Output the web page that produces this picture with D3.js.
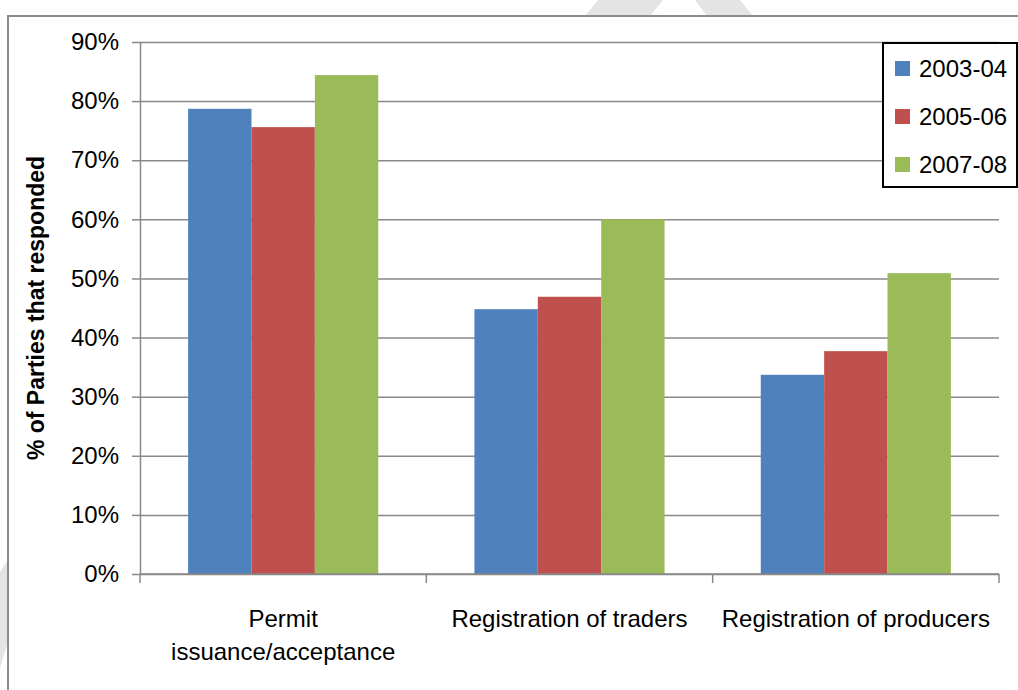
<!DOCTYPE html>
<html>
<head>
<meta charset="utf-8">
<script src="https://cdn.jsdelivr.net/npm/d3@7"></script>
<style>
  body { margin: 0; background: #fff; }
  svg text { font-family: "Liberation Sans", Arial, sans-serif; fill: #000; }
</style>
</head>
<body>
<div id="chart"></div>
<script>
'use strict';

// Chart data
const categories = ['Permit issuance/acceptance', 'Registration of traders', 'Registration of producers'];
const categoryLines = [['Permit', 'issuance/acceptance'], ['Registration of traders'], ['Registration of producers']];
const seriesNames = ['2003-04', '2005-06', '2007-08'];
const values0304 = [0.787, 0.448, 0.337];
const values0506 = [0.756, 0.469, 0.377];
const values0708 = [0.844, 0.600, 0.509];
const seriesColors = ['#4F81BD', '#C0504D', '#9BBB59'];
const yTicks = [0, 0.1, 0.2, 0.3, 0.4, 0.5, 0.6, 0.7, 0.8, 0.9];
const yTitle = '% of Parties that responded';

// Grouped bar chart class
class GroupedBarChart {
    #scaleX;
    #scaleSeries;
    #scaleY;

    constructor(container, width, height, margin) {
        this.width = width;
        this.height = height;
        this.margin = margin; // [top, bottom, left, right]

        this.svg = d3.select(container)
            .append('svg')
            .attr('width', this.width)
            .attr('height', this.height);

        this.#scaleX = d3.scaleBand();
        this.#scaleSeries = d3.scaleBand();
        this.#scaleY = d3.scaleLinear();
    }

    #updateScales() {
        let chartWidth = this.width - this.margin[2] - this.margin[3];
        let chartHeight = this.height - this.margin[0] - this.margin[1];
        this.chartWidth = chartWidth;
        this.chartHeight = chartHeight;

        this.#scaleX.domain(categories).range([0, chartWidth]).paddingInner(0.336).paddingOuter(0.168);
        this.#scaleSeries.domain(seriesNames).range([0, this.#scaleX.bandwidth()]).padding(0);
        this.#scaleY.domain([0, 0.9]).range([chartHeight, 0]);
    }

    #drawBackground() {
        // faint watermark pieces outside the chart frame
        let marks = [
            [[598, 0], [663, 0], [650, 16], [585, 16]],
            [[695, 0], [740, 0], [753, 16], [707, 16]],
            [[0, 572], [8, 560], [8, 642], [0, 668]]
        ];
        this.svg.selectAll('polygon.wm')
            .data(marks)
            .join('polygon')
            .classed('wm', true)
            .attr('points', d => d.map(p => p.join(',')).join(' '))
            .attr('fill', '#e4e4e4');

        // chart frame (runs off the right and bottom)
        this.svg.append('rect')
            .attr('x', 8).attr('y', 16)
            .attr('width', 1040).attr('height', 720)
            .attr('fill', '#fff')
            .attr('stroke', '#8c8c8c')
            .attr('stroke-width', 2);
    }

    render(data) {
        this.data = data;
        this.#updateScales();
        this.#drawBackground();

        this.chart = this.svg.append('g')
            .attr('transform', `translate(${this.margin[2]},${this.margin[0]})`);

        // gridlines
        this.chart.append('g')
            .call(d3.axisLeft(this.#scaleY).tickValues(yTicks).tickSize(-this.chartWidth).tickFormat(''))
            .call(g => g.select('.domain').remove())
            .call(g => g.selectAll('line').attr('stroke', '#898989').attr('stroke-width', 1.5));

        // bars
        let groups = this.chart.selectAll('g.group')
            .data(this.data)
            .join('g')
            .classed('group', true)
            .attr('transform', d => `translate(${this.#scaleX(d.category)},0)`);

        groups.selectAll('rect.bar')
            .data(d => d.values)
            .join('rect')
            .classed('bar', true)
            .attr('x', d => this.#scaleSeries(d.series))
            .attr('y', d => this.#scaleY(d.value))
            .attr('width', this.#scaleSeries.bandwidth())
            .attr('height', d => this.chartHeight - this.#scaleY(d.value))
            .attr('fill', (d, i) => seriesColors[i]);

        // y-axis
        this.chart.append('g')
            .call(d3.axisLeft(this.#scaleY).tickValues(yTicks).tickFormat(d3.format('.0%')).tickSize(8).tickPadding(13).tickSizeOuter(0))
            .call(g => g.select('.domain').attr('stroke', '#898989').attr('stroke-width', 1.5))
            .call(g => g.selectAll('line').attr('stroke', '#898989').attr('stroke-width', 1.5))
            .call(g => g.selectAll('text').style('font-size', '24px').attr('fill', '#000'));

        // x-axis line and category boundary ticks
        let step = this.#scaleX.step();
        let xAxis = this.chart.append('g')
            .attr('transform', `translate(0,${this.chartHeight})`);
        xAxis.append('line')
            .attr('x1', 0).attr('x2', this.chartWidth)
            .attr('stroke', '#898989').attr('stroke-width', 1.5);
        xAxis.selectAll('line.tick')
            .data(d3.range(categories.length + 1))
            .join('line')
            .classed('tick', true)
            .attr('x1', i => i * step).attr('x2', i => i * step)
            .attr('y1', 0).attr('y2', 9)
            .attr('stroke', '#898989').attr('stroke-width', 1.5);

        // category labels
        xAxis.selectAll('text.cat')
            .data(categories)
            .join('text')
            .classed('cat', true)
            .attr('x', d => this.#scaleX(d) + this.#scaleX.bandwidth() / 2)
            .attr('y', 53)
            .attr('text-anchor', 'middle')
            .style('font-size', '24px')
            .selectAll('tspan')
            .data((d, i) => categoryLines[i])
            .join('tspan')
            .attr('x', function() { return d3.select(this.parentNode).attr('x'); })
            .attr('dy', (d, i) => i === 0 ? 0 : 33)
            .text(d => d);

        // y-axis title
        this.svg.append('text')
            .attr('transform', `translate(44,${this.margin[0] + this.chartHeight / 2}) rotate(-90)`)
            .attr('text-anchor', 'middle')
            .style('font-size', '23px')
            .style('font-weight', 'bold')
            .text(yTitle);

        // legend
        let legend = this.svg.append('g').attr('transform', 'translate(883,43)');
        legend.append('rect')
            .attr('width', 134).attr('height', 144)
            .attr('fill', '#fff')
            .attr('stroke', '#000').attr('stroke-width', 2);
        let items = legend.selectAll('g.item')
            .data(seriesNames)
            .join('g')
            .classed('item', true)
            .attr('transform', (d, i) => `translate(12,${18 + i * 48})`);
        items.append('rect')
            .attr('width', 15).attr('height', 15)
            .attr('fill', (d, i) => seriesColors[i]);
        items.append('text')
            .attr('x', 24).attr('y', 15.5)
            .style('font-size', '24px')
            .text(d => d);
    }
}

// Build rows from the arrays
let rows = categories.map((c, i) => ({
    category: c,
    values: [
        {series: seriesNames[0], value: values0304[i]},
        {series: seriesNames[1], value: values0506[i]},
        {series: seriesNames[2], value: values0708[i]}
    ]
}));

let chart = new GroupedBarChart('#chart', 1018, 690, [42, 116, 140, 19]);
chart.render(rows);
</script>
</body>
</html>
